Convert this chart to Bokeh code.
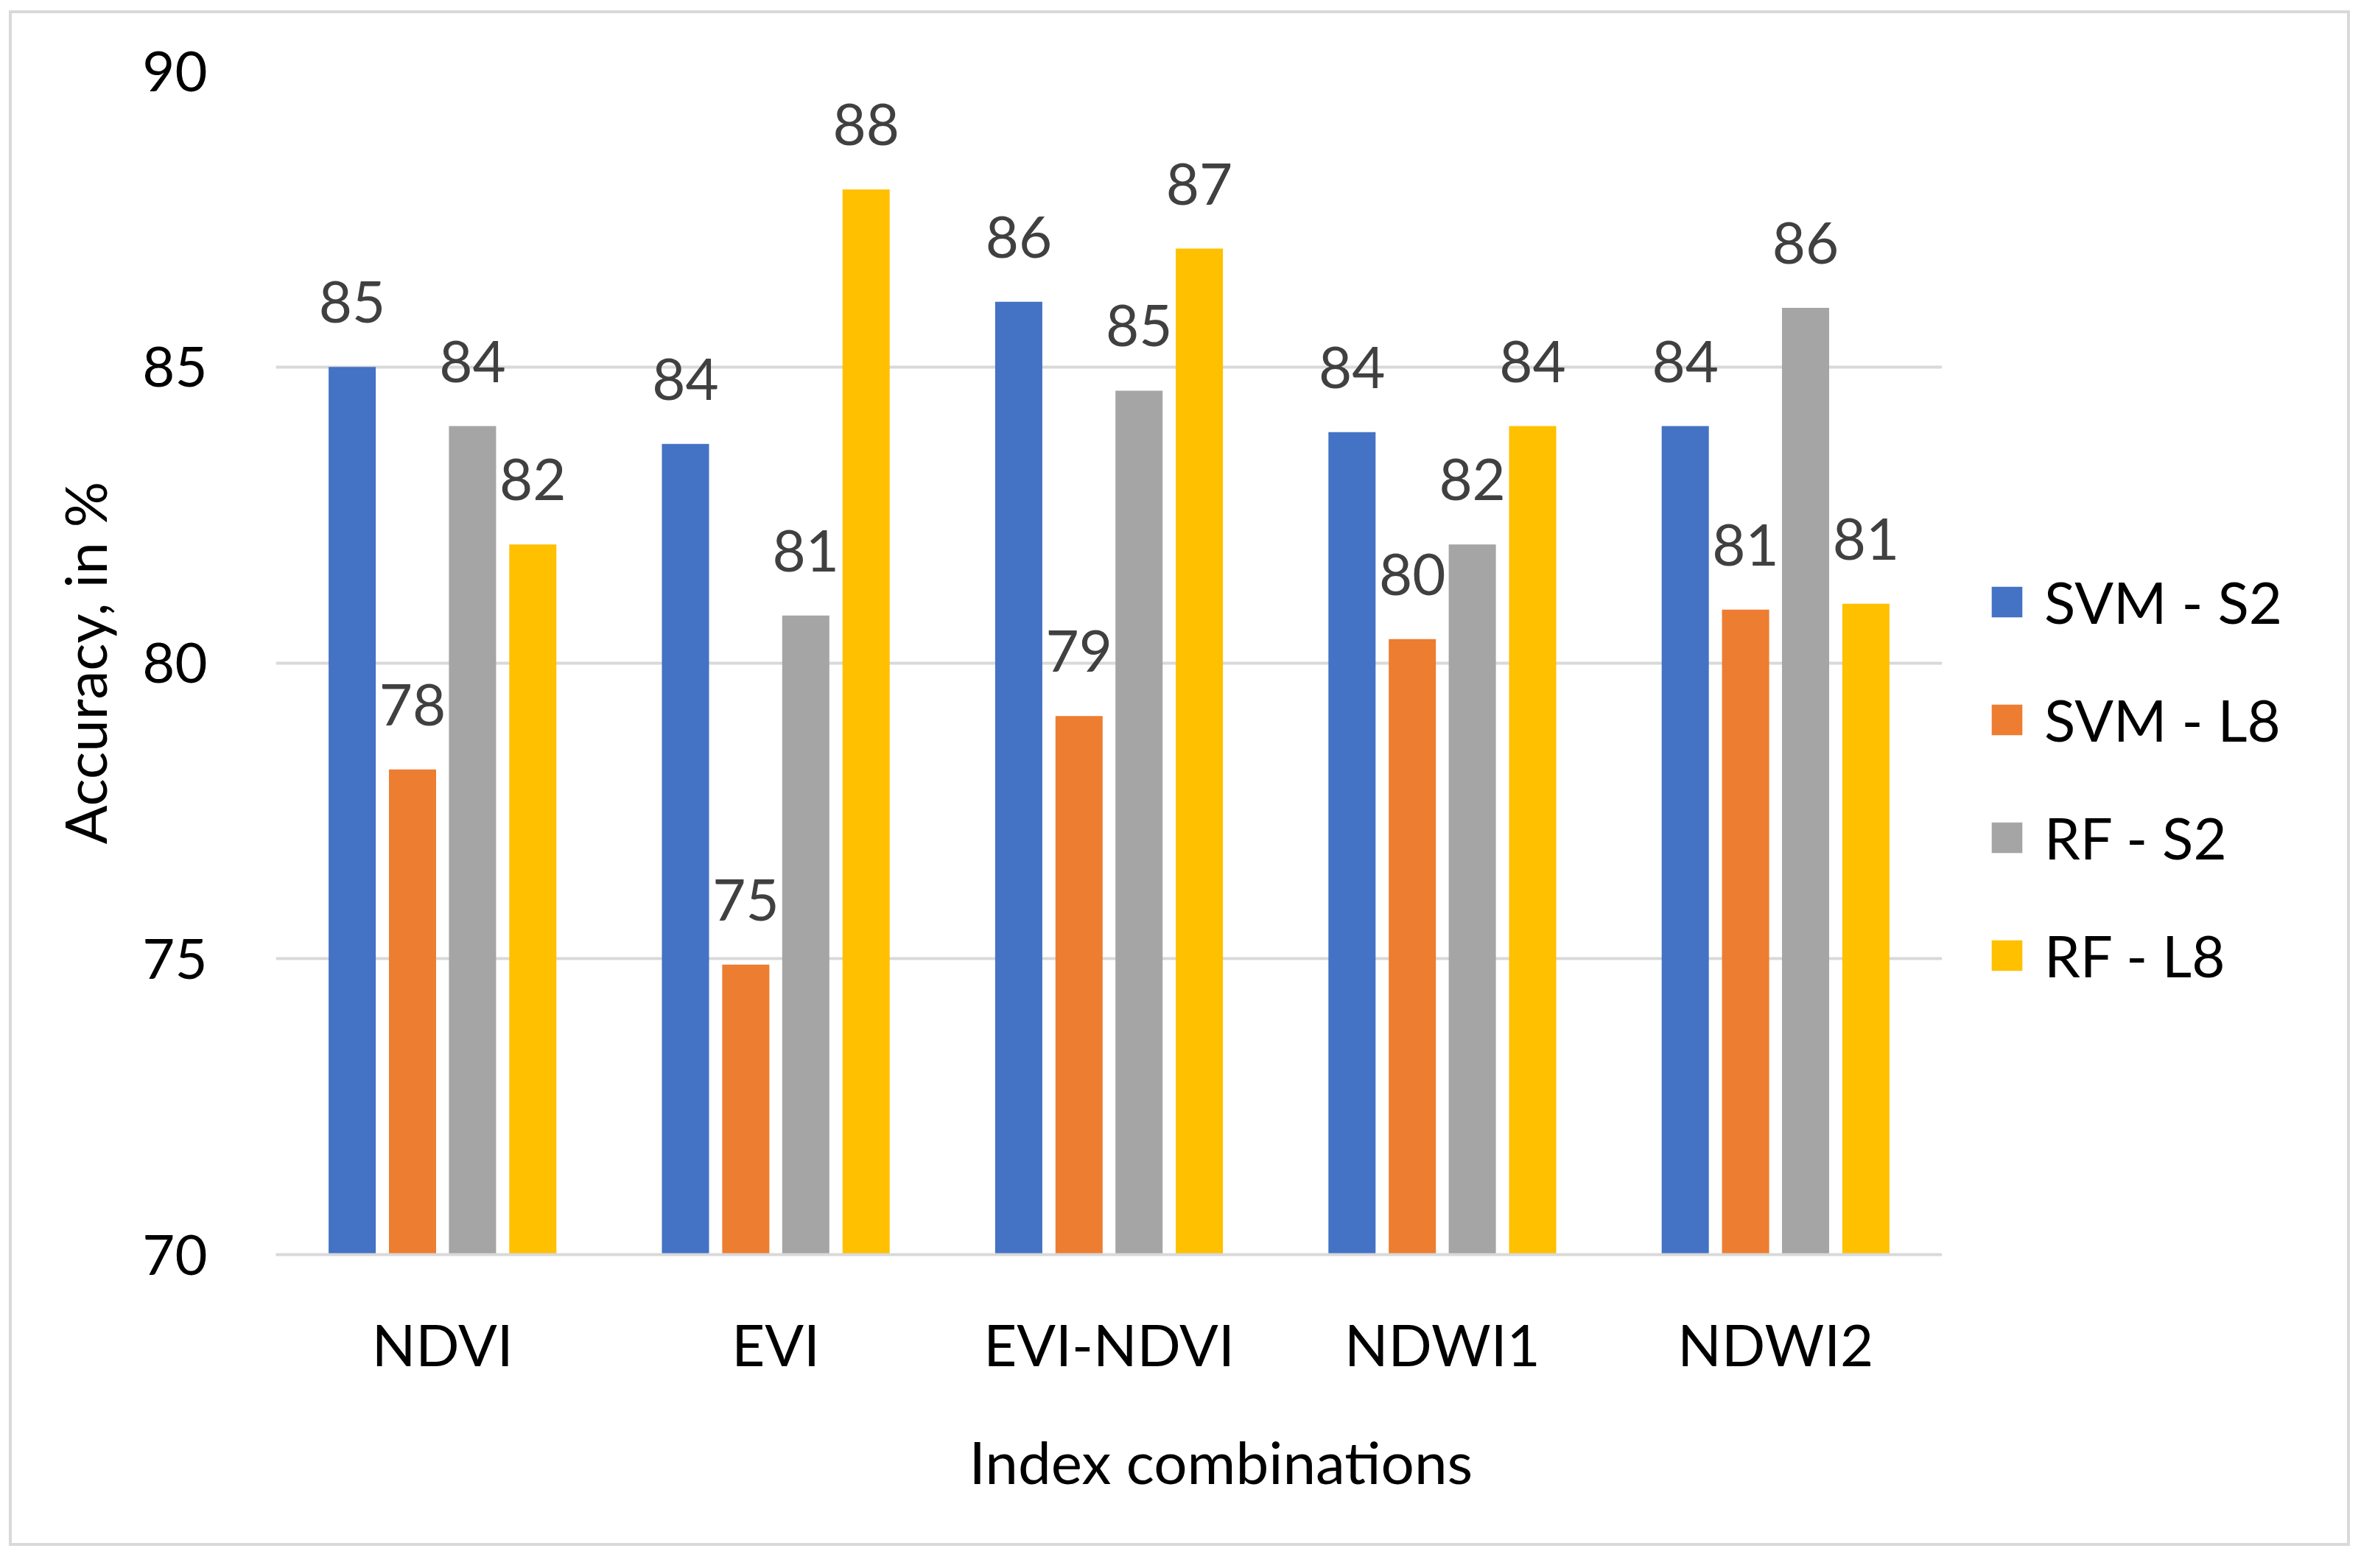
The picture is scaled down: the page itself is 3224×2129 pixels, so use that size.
from bokeh.plotting import figure
from bokeh.layouts import row
from bokeh.models import (ColumnDataSource, FactorRange, Range1d, Legend, LegendItem,
                          Title, FixedTicker)
from bokeh.transform import dodge
from bokeh.embed import file_html
from bokeh.resources import INLINE
from bokeh.core.properties import value

categories = ["NDVI", "EVI", "EVI-NDVI", "NDWI1", "NDWI2"]
series_names = ["SVM - S2", "SVM - L8", "RF - S2", "RF - L8"]
svm_s2 = [85.0, 83.7, 86.1, 83.9, 84.0]
svm_l8 = [78.2, 74.9, 79.1, 80.4, 80.9]
rf_s2 = [84.0, 80.8, 84.6, 82.0, 86.0]
rf_l8 = [82.0, 88.0, 87.0, 84.0, 81.0]
y_ticks = [70, 75, 80, 85, 90]

colors = ["#4472C4", "#ED7D31", "#A5A5A5", "#FFC000"]
series = [svm_s2, svm_l8, rf_s2, rf_l8]
keys = ["svm_s2", "svm_l8", "rf_s2", "rf_l8"]
offsets = [-0.271, -0.090, 0.090, 0.271]

data = {"cat": categories}
for k, s in zip(keys, series):
    data[k] = s
    data[k + "_lbl"] = [f"{v:.0f}" for v in s]
src = ColumnDataSource(data)

FONT = "Lato"
H = 2077

p = figure(
    x_range=FactorRange(*categories),
    y_range=Range1d(70, 90),
    width=2620, height=H,
    output_backend="svg", toolbar_location=None,
    min_border_left=358, min_border_right=0,
    min_border_top=78, min_border_bottom=392,
)
p.outline_line_color = None
p.background_fill_color = "white"
p.border_fill_color = "white"

for k, c, off in zip(keys, colors, offsets):
    p.vbar(x=dodge("cat", off, range=p.x_range), top=k, bottom=70, width=0.1415,
           source=src, fill_color=c, line_color=None)
    p.text(x=dodge("cat", off, range=p.x_range), y=k, text=k + "_lbl", source=src,
           text_align="center", text_baseline="alphabetic", y_offset=-88,
           text_font=value(FONT), text_font_size="78px", text_color="#404040")

# grid
p.xgrid.grid_line_color = None
p.ygrid.grid_line_color = "#D9D9D9"
p.ygrid.grid_line_width = 4
p.yaxis.ticker = FixedTicker(ticks=y_ticks)

# y axis
p.yaxis.axis_line_color = None
p.yaxis.major_tick_line_color = None
p.yaxis.minor_tick_line_color = None
p.yaxis.major_label_standoff = 87
p.yaxis.major_label_text_font = FONT
p.yaxis.major_label_text_font_size = "76px"
p.yaxis.major_label_text_color = "#000000"
p.yaxis.axis_label = "Accuracy, in %"
p.yaxis.axis_label_text_font = FONT
p.yaxis.axis_label_text_font_size = "78px"
p.yaxis.axis_label_text_font_style = "normal"
p.yaxis.axis_label_text_color = "#000000"
p.yaxis.axis_label_standoff = 28

# x axis
p.xaxis.axis_line_color = "#D9D9D9"
p.xaxis.axis_line_width = 4
p.xaxis.major_tick_line_color = None
p.xaxis.minor_tick_line_color = None
p.xaxis.major_label_standoff = 68
p.xaxis.major_label_text_font = FONT
p.xaxis.major_label_text_font_size = "78px"
p.xaxis.major_label_text_color = "#000000"

xtitle = Title(text="Index combinations", align="left", offset=941,
               text_font=FONT, text_font_size="80px", text_font_style="normal",
               text_color="#000000", standoff=118)
p.add_layout(xtitle, "below")

# legend panel (separate canvas to the right of the plot); its bars have no width
p2 = figure(width=550, height=H, x_range=FactorRange(*categories), y_range=Range1d(100, 120),
            output_backend="svg", toolbar_location=None, min_border=0)
p2.axis.visible = False
p2.grid.visible = False
p2.outline_line_color = None
p2.background_fill_color = "white"
p2.border_fill_color = "white"
items = []
for k, c, name in zip(keys, colors, series_names):
    r = p2.vbar(x="cat", top=k, bottom=70, width=0.0, source=src,
                fill_color=c, line_color=None)
    items.append(LegendItem(label=name, renderers=[r]))
legend = Legend(items=items, location=(62, 359), orientation="vertical",
                glyph_width=52, glyph_height=52, label_height=52, label_standoff=25,
                spacing=66, padding=0, margin=0, border_line_color=None,
                background_fill_alpha=0,
                label_text_font=FONT, label_text_font_size="78px", label_text_color="#000000")
p2.add_layout(legend, "center")

layout = row(p, p2)
layout.margin = (14, 0, 0, 12)
layout.styles = {"border": "4px solid #D9D9D9", "background-color": "white"}

open("out.html", "w").write(file_html(layout, INLINE))
